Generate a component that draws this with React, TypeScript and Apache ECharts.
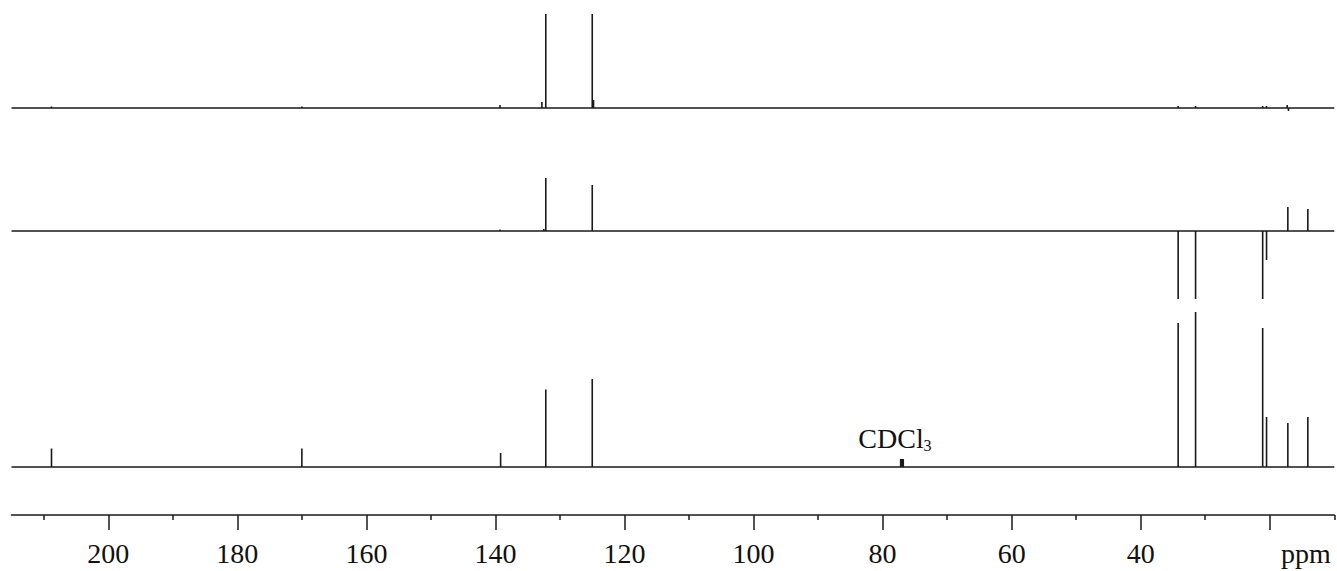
import React, { useEffect, useRef } from "react";
import * as echarts from "echarts";

// ppm range of the spectrum (axis runs right to left)
const PPM_MAX = 215;
const PPM_MIN = 10;

// axis ticks and labels
const majorTicks = [200, 180, 160, 140, 120, 100, 80, 60, 40, 20];
const minorTicks = [210, 190, 170, 150, 130, 110, 90, 70, 50, 30, 10];
const tickLabels = [200, 180, 160, 140, 120, 100, 80, 60, 40];
const unitLabel = "ppm";
const solventLabel = "CDCl";
const solventSub = "3";

// [ppm, intensity] — top trace (DEPT-90)
const dept90Peaks: [number, number][] = [
  [208.8, 1.5],
  [170.0, 1.5],
  [139.3, 3],
  [132.8, 6],
  [132.2, 94],
  [125.0, 94],
  [124.8, 8],
  [34.2, 2],
  [31.5, 2],
  [21.1, 2],
  [20.5, 2],
  [17.3, 3],
  [17.1, -3],
];

// [ppm, intensity] — middle trace (DEPT-135)
const dept135Peaks: [number, number][] = [
  [139.3, 1.5],
  [132.5, 2],
  [132.2, 53],
  [125.0, 46],
  [34.2, -68],
  [31.5, -68],
  [21.1, -68],
  [20.5, -29],
  [17.2, 24],
  [14.1, 22],
];

// [ppm, intensity] — bottom trace (broadband 13C)
const carbonPeaks: [number, number][] = [
  [208.8, 18.5],
  [170.0, 18.5],
  [139.2, 14],
  [132.2, 77.5],
  [125.0, 88],
  [77.2, 8],
  [77.0, 8],
  [76.8, 8],
  [34.2, 144],
  [31.5, 155],
  [21.1, 139],
  [20.5, 50],
  [17.2, 44],
  [14.1, 50],
];

function buildTrace(peaks: [number, number][]): [number, number][] {
  const sorted = [...peaks].sort((a, b) => b[0] - a[0]);
  const out: [number, number][] = [[PPM_MAX, 0]];
  for (const [p, h] of sorted) {
    out.push([p, 0], [p, h], [p, 0]);
  }
  out.push([PPM_MIN, 0]);
  return out;
}

const INK = "#1a1a1a";
const SERIF = "'Liberation Serif', 'Times New Roman', serif";

export default function App() {
  const ref = useRef<HTMLDivElement>(null);

  useEffect(() => {
    if (!ref.current) return;
    const chart = echarts.init(ref.current, undefined, { renderer: "svg" });
    const L = 11.5;
    const R = 2.7;
    const hiddenX = (gridIndex: number) => ({
      type: "value",
      gridIndex,
      min: PPM_MIN,
      max: PPM_MAX,
      inverse: true,
      show: false,
    });
    const lineSeries = (idx: number, data: [number, number][]) => ({
      type: "line",
      xAxisIndex: idx,
      yAxisIndex: idx,
      data,
      showSymbol: false,
      symbol: "none",
      clip: false,
      lineStyle: { color: INK, width: 1.6 },
      silent: true,
    });
    chart.setOption({
      animation: false,
      backgroundColor: "#ffffff",
      grid: [
        { left: L, right: R, top: 14, height: 94 },
        { left: L, right: R, top: 170, height: 130 },
        { left: L, right: R, top: 307, height: 160 },
        { left: L, right: R, top: 467, height: 48 },
        { left: L, right: R, top: 467, height: 48 },
      ],
      xAxis: [
        hiddenX(0),
        hiddenX(1),
        hiddenX(2),
        {
          type: "value",
          gridIndex: 3,
          min: PPM_MIN,
          max: PPM_MAX,
          inverse: true,
          position: "bottom",
          axisLine: { show: true, lineStyle: { color: INK, width: 1.6 } },
          axisTick: {
            show: true,
            customValues: majorTicks,
            length: 15,
            lineStyle: { color: INK, width: 1.5 },
          },
          axisLabel: {
            show: true,
            customValues: tickLabels,
            margin: 38,
            verticalAlign: "middle",
            fontFamily: SERIF,
            fontSize: 28,
            color: "#111",
          },
          splitLine: { show: false },
        },
        {
          type: "value",
          gridIndex: 4,
          min: PPM_MIN,
          max: PPM_MAX,
          inverse: true,
          position: "bottom",
          axisLine: { show: false },
          axisTick: {
            show: true,
            customValues: minorTicks,
            length: 5,
            lineStyle: { color: INK, width: 1.5 },
          },
          axisLabel: { show: false },
          splitLine: { show: false },
        },
      ],
      yAxis: [
        { type: "value", gridIndex: 0, min: 0, max: 94, show: false },
        { type: "value", gridIndex: 1, min: -69, max: 61, show: false },
        { type: "value", gridIndex: 2, min: 0, max: 160, show: false },
        { type: "value", gridIndex: 3, min: 0, max: 1, show: false },
        { type: "value", gridIndex: 4, min: 0, max: 1, show: false },
      ],
      series: [
        lineSeries(0, buildTrace(dept90Peaks)),
        lineSeries(1, buildTrace(dept135Peaks)),
        lineSeries(2, buildTrace(carbonPeaks)),
      ],
      graphic: [
        {
          type: "text",
          x: 1306,
          y: 553,
          style: {
            text: unitLabel,
            fontFamily: SERIF,
            fontSize: 28,
            fill: "#111",
            align: "center",
            verticalAlign: "middle",
          },
        },
        {
          type: "text",
          x: 891,
          y: 438.5,
          style: {
            text: solventLabel,
            fontFamily: SERIF,
            fontSize: 28,
            fill: "#111",
            align: "center",
            verticalAlign: "middle",
          },
        },
        {
          type: "text",
          x: 927.5,
          y: 445.7,
          style: {
            text: solventSub,
            fontFamily: SERIF,
            fontSize: 16,
            fill: "#111",
            align: "center",
            verticalAlign: "middle",
          },
        },
      ],
    });
    return () => chart.dispose();
  }, []);

  return (
    <div
      ref={ref}
      style={{ position: "fixed", left: 0, top: 0, width: 1337, height: 571, background: "#fff" }}
    />
  );
}
